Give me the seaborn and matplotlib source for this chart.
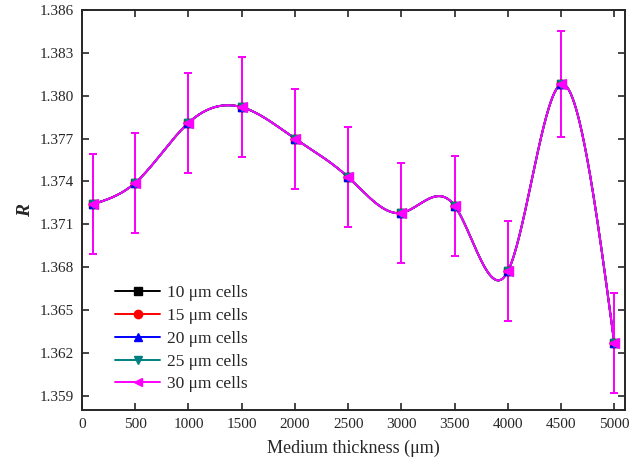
import numpy as np
import pandas as pd
import matplotlib
matplotlib.use("Agg")
import matplotlib.pyplot as plt
from matplotlib.lines import Line2D
import seaborn as sns

thickness = [100, 500, 1000, 1500, 2000, 2500, 3000, 3500, 4000, 4500, 5000]
r_mean = [1.3724, 1.3739, 1.3781, 1.3792, 1.3770, 1.3743, 1.3718, 1.3723, 1.3677, 1.3808, 1.3627]
r_err = [0.0035, 0.0035, 0.0035, 0.0035, 0.0035, 0.0035, 0.0035, 0.0035, 0.0035, 0.0037, 0.0035]
cell_labels = ["10 \u03bcm cells", "15 \u03bcm cells", "20 \u03bcm cells", "25 \u03bcm cells", "30 \u03bcm cells"]
colors = ["black", "red", "blue", "#008080", "magenta"]
markers = ["s", "o", "^", "v", "<"]


def natural_spline(x, y, num=600):
    # plain natural cubic spline, like Origin's spline connector
    x = np.asarray(x, float)
    y = np.asarray(y, float)
    n = len(x)
    h = np.diff(x)
    A = np.zeros((n, n))
    b = np.zeros(n)
    A[0, 0] = A[-1, -1] = 1
    for i in range(1, n - 1):
        A[i, i - 1] = h[i - 1]
        A[i, i] = 2 * (h[i - 1] + h[i])
        A[i, i + 1] = h[i]
        b[i] = 6 * ((y[i + 1] - y[i]) / h[i] - (y[i] - y[i - 1]) / h[i - 1])
    M = np.linalg.solve(A, b)
    xs = np.linspace(x[0], x[-1], num)
    idx = np.clip(np.searchsorted(x, xs) - 1, 0, n - 2)
    x0, x1 = x[idx], x[idx + 1]
    hh = x1 - x0
    t0, t1 = x1 - xs, xs - x0
    ys = (M[idx] * t0**3 + M[idx + 1] * t1**3) / (6 * hh) \
        + (y[idx] / hh - M[idx] * hh / 6) * t0 \
        + (y[idx + 1] / hh - M[idx + 1] * hh / 6) * t1
    return xs, ys


sns.set_style("ticks")
plt.rcParams["font.family"] = ["Liberation Serif", "DejaVu Serif"]

fig = plt.figure(figsize=(6.38, 4.67), dpi=100)
ax = fig.add_axes([0.1285, 0.122, 0.851, 0.8566])

xs, ys = natural_spline(thickness, r_mean)
curves = pd.concat([pd.DataFrame({"x": xs, "y": ys, "cells": lab}) for lab in cell_labels])
sns.lineplot(data=curves, x="x", y="y", hue="cells", palette=colors, lw=1.4,
             legend=False, ax=ax, sort=False)

for lab, c, m in zip(cell_labels, colors, markers):
    ax.errorbar(thickness, r_mean, yerr=r_err, fmt=m, color=c, ecolor=c,
                ms=7 if m == "<" else 6, capsize=3, elinewidth=1.4, capthick=1.4, zorder=3)

ax.set_xlim(0, 5100)
ax.set_ylim(1.358, 1.386)
ax.set_xticks(np.arange(0, 5001, 500))
ax.set_yticks(np.arange(1.359, 1.3861, 0.003))
ax.set_yticklabels([f"{v:.3f}" for v in np.arange(1.359, 1.3861, 0.003)])
ax.tick_params(direction="in", length=5, width=1.2, top=True, right=True,
               labelsize=11, pad=6)
for s in ax.spines.values():
    s.set_linewidth(1.4)
ax.set_xlabel("Medium thickness (\u03bcm)", fontsize=13, labelpad=6)
ax.set_ylabel("R", fontsize=14, fontweight="bold", style="italic", labelpad=4)

handles = [Line2D([], [], color=c, marker=m, ms=6, lw=1.4) for c, m in zip(colors, markers)]
ax.legend(handles, cell_labels, loc="lower left", bbox_to_anchor=(0.032, 0.005),
          frameon=False, fontsize=12.5, handlelength=2.6, labelspacing=0.38,
          handletextpad=0.4)

fig.savefig("out.png", dpi=100)
